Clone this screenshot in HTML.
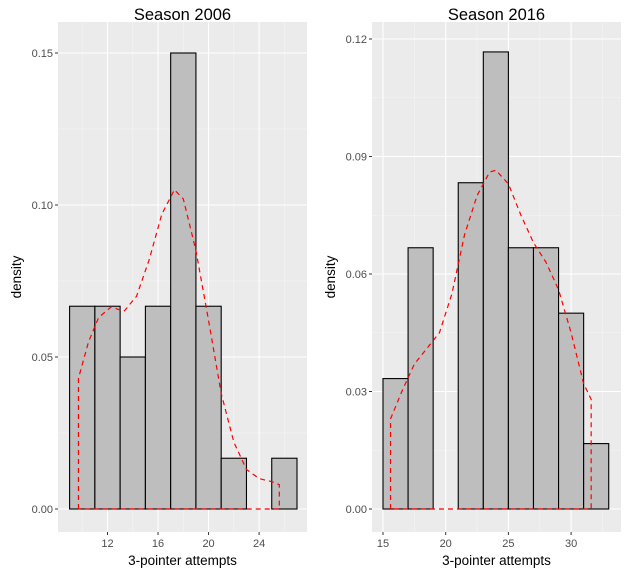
<!DOCTYPE html>
<html><head><meta charset="utf-8"><style>
body{margin:0;background:#fff;}
svg{display:block;font-family:"Liberation Sans",sans-serif;}
</style></head><body>
<svg id="chart" width="628" height="575"></svg>
<script>
const leftBinStarts=[9,11,13,15,17,19,21,23,25];
const leftDensity=[0.0667,0.0667,0.05,0.0667,0.15,0.0667,0.0167,0,0.0167];
const leftCurveX=[9.7,10.5,11.3,12.3,13.3,14.3,15.3,16.3,17.3,18,19,20,21,22,23,24,25,25.6];
const leftCurveY=[0.043,0.055,0.063,0.0665,0.065,0.07,0.082,0.097,0.105,0.102,0.085,0.062,0.038,0.022,0.013,0.01,0.009,0.008];
const leftXTicks=[12,16,20,24];
const leftYTicks=["0.00","0.05","0.10","0.15"];
const rightBinStarts=[15,17,19,21,23,25,27,29,31];
const rightDensity=[0.0333,0.0667,0,0.0833,0.1167,0.0667,0.0667,0.05,0.0167];
const rightCurveX=[15.6,16.5,17.5,18.5,19.5,20.5,21.5,22.5,23.5,24,25,26,27,28,29,30,31,31.6];
const rightCurveY=[0.023,0.03,0.037,0.041,0.045,0.055,0.07,0.08,0.086,0.0865,0.083,0.075,0.068,0.063,0.056,0.045,0.032,0.028];
const rightXTicks=[15,20,25,30];
const rightYTicks=["0.00","0.03","0.06","0.09","0.12"];

const NS="http://www.w3.org/2000/svg";
const svg=document.getElementById('chart');
function mk(tag,attrs,parent){const e=document.createElementNS(NS,tag);for(const k in attrs)e.setAttribute(k,attrs[k]);(parent||svg).appendChild(e);return e;}

function panel(cfg){
  const g=mk('g',{});
  
  
  const sx=v=>cfg.x0px+(v-cfg.x0)*cfg.xs;
  const sy=v=>cfg.y0px-v*cfg.ys;
  const bg=mk('rect',{x:cfg.L,y:22,width:cfg.R-cfg.L,height:510,fill:'#ebebeb'},g);
  
  cfg.xMinor.forEach(v=>mk('line',{x1:sx(v),x2:sx(v),y1:22,y2:532,stroke:'#f5f5f5','stroke-width':0.6},g));
  cfg.yMinor.forEach(v=>mk('line',{x1:cfg.L,x2:cfg.R,y1:sy(v),y2:sy(v),stroke:'#f5f5f5','stroke-width':0.6},g));
  cfg.xTicks.forEach(v=>mk('line',{x1:sx(v),x2:sx(v),y1:22,y2:532,stroke:'#fff','stroke-width':1.1},g));
  cfg.yTicks.forEach(t=>mk('line',{x1:cfg.L,x2:cfg.R,y1:sy(+t),y2:sy(+t),stroke:'#fff','stroke-width':1.1},g));
  cfg.bins.forEach((b,i)=>{
    const h=cfg.dens[i];
    const r=mk('rect',{x:sx(b),y:sy(h),width:sx(b+2)-sx(b),height:sy(0)-sy(h),fill:'#bebebe',stroke:'#000','stroke-width':1.1},g);
    
    
  });
  let d='M'+sx(cfg.cx[0])+','+sy(0);
  cfg.cx.forEach((x,i)=>{d+=' L'+sx(x)+','+sy(cfg.cy[i]);});
  d+=' L'+sx(cfg.cx[cfg.cx.length-1])+','+sy(0)+' Z';
  const p=mk('path',{d:d,fill:'none',stroke:'#ff0000','stroke-width':1.2,'stroke-dasharray':'5,4'},g);
  
  
  cfg.xTicks.forEach(v=>{
    mk('line',{x1:sx(v),x2:sx(v),y1:532,y2:535,stroke:'#333'},g);
    const t=mk('text',{x:sx(v),y:547,'text-anchor':'middle','font-size':11,fill:'#4d4d4d'},g);t.textContent=v;
    
  });
  cfg.yTicks.forEach(s=>{
    mk('line',{x1:cfg.L-3,x2:cfg.L,y1:sy(+s),y2:sy(+s),stroke:'#333'},g);
    const t=mk('text',{x:cfg.L-5,y:sy(+s)+4,'text-anchor':'end','font-size':11,fill:'#4d4d4d'},g);t.textContent=s;
    
  });
  const xt=mk('text',{x:(cfg.L+cfg.R)/2,y:565,'text-anchor':'middle','font-size':13.5,fill:'#000'},g);xt.textContent='3-pointer attempts';
  
  const yt=mk('text',{x:0,y:0,'text-anchor':'middle','font-size':13.5,fill:'#000',transform:`translate(${cfg.yTitleX},277) rotate(-90)`},g);yt.textContent='density';
  
  const tt=mk('text',{x:(cfg.L+cfg.R)/2,y:20,'text-anchor':'middle','font-size':16.5,fill:'#000'},g);tt.textContent=cfg.title;
  
}
panel({name:'panel-2006',L:58,R:307,x0:12,x0px:107.5,xs:151.6/12,y0px:509,ys:152/0.05,
  bins:leftBinStarts,dens:leftDensity,cx:leftCurveX,cy:leftCurveY,xTicks:leftXTicks,yTicks:leftYTicks,
  xMinor:[10,14,18,22,26],yMinor:[0.025,0.075,0.125],yTitleX:21,title:'Season 2006'});
panel({name:'panel-2016',L:372,R:621,x0:15,x0px:383,xs:62.7/5,y0px:509,ys:117.5/0.03,
  bins:rightBinStarts,dens:rightDensity,cx:rightCurveX,cy:rightCurveY,xTicks:rightXTicks,yTicks:rightYTicks,
  xMinor:[17.5,22.5,27.5,32.5],yMinor:[0.015,0.045,0.075,0.105],yTitleX:335,title:'Season 2016'});
</script>
</body></html>
